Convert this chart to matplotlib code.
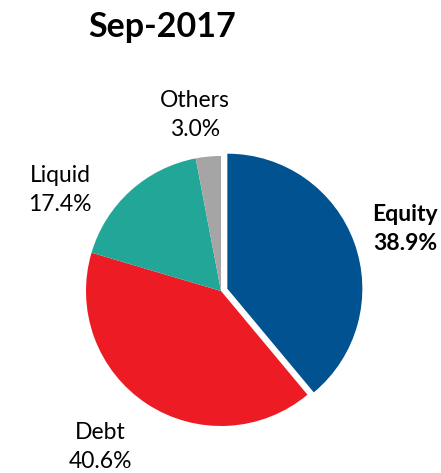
import matplotlib.pyplot as plt

# 資産配分 (2017年9月)
categories = ["Equity", "Debt", "Liquid", "Others"]
shares = [38.9, 40.6, 17.4, 3.0]
colors = ["#005290", "#ED1C24", "#22A698", "#A5A5A5"]
title = "Sep-2017"

plt.rcParams["font.family"] = ["Lato", "DejaVu Sans"]


def main():
    fig = plt.figure(figsize=(4.41, 4.73), dpi=100)
    ax = fig.add_axes([0, 0, 1, 1])

    # 座標はピクセル単位 (y は下から)
    radius = 135
    # explode は絶対値なので半径を掛ける
    ax.pie(shares, colors=colors, startangle=90, counterclock=False,
           explode=[0.05 * radius, 0, 0, 0], center=(221, 182), radius=radius,
           wedgeprops=dict(linewidth=0))

    ax.set_xlim(0, 441)
    ax.set_ylim(0, 473)
    ax.set_aspect("equal")
    ax.axis("off")

    # ラベル位置 (x, y, 太字か)
    label_pos = [(405, 244, True), (100, 26, False),
                 (60, 283, False), (195, 358, False)]
    for name, val, (x, y, bold) in zip(categories, shares, label_pos):
        ax.text(x, y, f"{name}\n{val:.1f}%", ha="center", va="center",
                fontsize=16.5, fontweight="bold" if bold else "normal",
                linespacing=1.5)

    ax.text(162, 473 - 27, title, ha="center", va="center",
            fontsize=24.5, fontweight="bold")

    fig.savefig("out.png", dpi=100)


if __name__ == "__main__":
    main()
